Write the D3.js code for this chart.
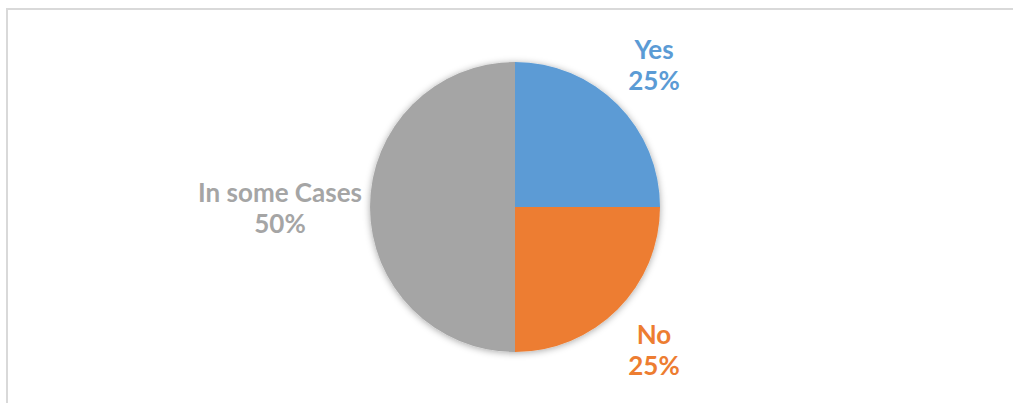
<!DOCTYPE html>
<html>
<head>
<meta charset="utf-8">
<script src="https://cdn.jsdelivr.net/npm/d3@7"></script>
<style>
  html, body { margin: 0; padding: 0; background: #fff; }
  svg { display: block; }
</style>
</head>
<body>
<svg id="chart" width="1013" height="403"></svg>
<script>
// Survey answers
const categories = ["Yes", "No", "In some Cases"];
const values = [25, 25, 50];
const labels = ["25%", "25%", "50%"];
const colors = ["#5B9BD5", "#ED7D31", "#A5A5A5"];

const svg = d3.select("#chart");
const W = 1013, H = 403;

// Chart frame (open on the right/bottom edges)
svg.append("rect")
  .attr("x", 7).attr("y", 9)
  .attr("width", W + 20).attr("height", H + 20)
  .attr("fill", "none")
  .attr("stroke", "#d9d9d9")
  .attr("stroke-width", 2);

const defs = svg.append("defs");
const f = defs.append("filter").attr("id", "soft")
  .attr("x", "-20%").attr("y", "-20%").attr("width", "140%").attr("height", "140%");
f.append("feDropShadow")
  .attr("dx", 0).attr("dy", 1)
  .attr("stdDeviation", 3.5)
  .attr("flood-color", "#000")
  .attr("flood-opacity", 0.35);

const cx = 515, cy = 207, r = 145;

const data = categories.map((c, i) => ({ name: c, value: values[i], label: labels[i], color: colors[i] }));

const pie = d3.pie().sort(null).value(d => d.value);
const arc = d3.arc().innerRadius(0).outerRadius(r);

const g = svg.append("g").attr("transform", `translate(${cx},${cy})`);
g.append("g").attr("filter", "url(#soft)")
  .selectAll("path")
  .data(pie(data))
  .join("path")
  .attr("d", arc)
  .attr("fill", d => d.data.color);

// Outside labels placed along each slice's mid-angle
const labelArc = d3.arc().innerRadius(r * 1.15).outerRadius(r * 1.15);
const offsets = {
  "Yes": [654, 59],
  "No": [654, 344],
  "In some Cases": [280, 202]
};

const lab = svg.append("g")
  .selectAll("text")
  .data(pie(data))
  .join("text")
  .attr("text-anchor", "middle")
  .attr("font-family", "Lato, 'Open Sans', sans-serif")
  .attr("font-weight", "bold")
  .attr("font-size", 26)
  .attr("fill", d => d.data.color)
  .attr("transform", d => {
    const [x, y] = offsets[d.data.name];
    return `translate(${x},${y})`;
  });
lab.append("tspan").attr("x", 0).attr("y", 0).text(d => d.data.name);
lab.append("tspan").attr("x", 0).attr("y", 31).text(d => d.data.label);
</script>
</body>
</html>
